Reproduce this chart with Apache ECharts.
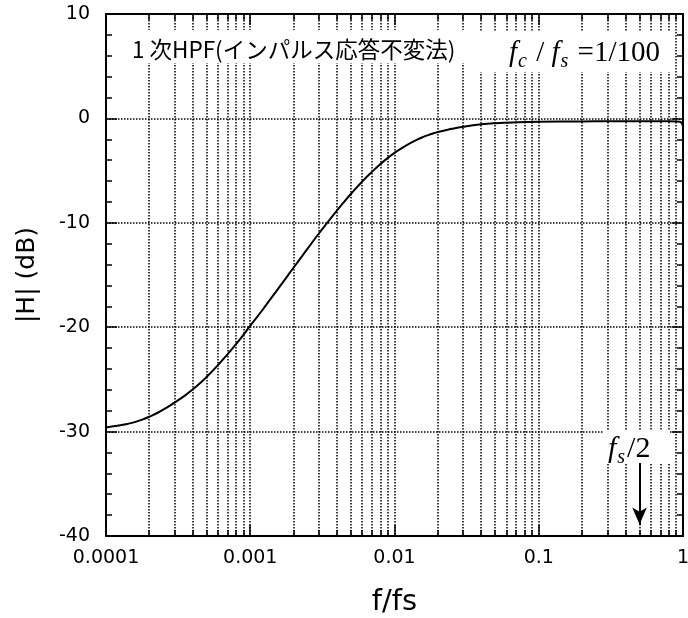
<!DOCTYPE html>
<html><head><meta charset="utf-8">
<script src="https://cdn.jsdelivr.net/npm/echarts@6/dist/echarts.min.js"></script>
<style>html,body{margin:0;padding:0;background:#fff}#c{width:688px;height:618px}</style>
</head><body><div id="c"></div>
<script>
// ---- data ----
const freq = [0.0001, 0.00012, 0.00014, 0.00016, 0.00018, 0.0002, 0.00023, 0.00026, 0.0003, 0.00035, 0.0004, 0.00045, 0.0005, 0.0006, 0.0007, 0.0008, 0.0009,
  0.001, 0.0012, 0.0014, 0.0016, 0.0018, 0.002, 0.0023, 0.0026, 0.003, 0.0035, 0.004, 0.0045, 0.005, 0.006, 0.007, 0.008, 0.009,
  0.01, 0.012, 0.014, 0.016, 0.018, 0.02, 0.025, 0.03, 0.04, 0.05, 0.07, 0.1, 0.2, 0.3, 0.5, 0.8, 0.9, 0.95, 0.98, 1.0];
const gainDb = [-29.6, -29.45, -29.27, -29.07, -28.83, -28.57, -28.17, -27.75, -27.2, -26.58, -25.95, -25.35, -24.75, -23.6, -22.55, -21.6, -20.7,
  -19.85, -18.45, -17.2, -16.12, -15.15, -14.28, -13.15, -12.15, -11.0, -9.82, -8.8, -7.95, -7.22, -6.02, -5.1, -4.36, -3.78,
  -3.3, -2.6, -2.1, -1.75, -1.5, -1.3, -1.0, -0.8, -0.57, -0.46, -0.37, -0.32, -0.29, -0.28, -0.28, -0.28, -0.29, -0.32, -0.45, -0.75];
const xTickLabels = ['0.0001', '0.001', '0.01', '0.1', '1'];
const yTickLabels = ['-40', '-30', '-20', '-10', '0', '10'];
const decades = [0.0001, 0.001, 0.01, 0.1];
const minorMultipliers = [2, 3, 4, 5, 6, 7, 8, 9];
const nyquist = 0.5;
const arrowFrom = -33.0, arrowTo = -38.9;
const title1 = '1 次HPF(インパルス応答不変法)';

const minorX = [];
decades.forEach(d => minorMultipliers.forEach(m => minorX.push(d * m)));

const X_MIN = 0.0001, X_MAX = 1, Y_MIN = -40, Y_MAX = 10;
const chart = echarts.init(document.getElementById('c'), null, {renderer: 'canvas'});

const axisLineStyle = {color: '#000', width: 2};
const dotted = {color: '#000', width: 1.5, type: [1.5, 1.5]};

function xLabel(v) {
  const k = Math.round(Math.log10(v)) + 4;
  return xTickLabels[k] !== undefined ? xTickLabels[k] : '';
}

const serifRich = function (size, subSize, pad) {
  return {
    fi: {fontFamily: 'Liberation Serif', fontStyle: 'italic', fontSize: size, lineHeight: size, verticalAlign: 'bottom', padding: [0, 0, pad, 0]},
    n: {fontFamily: 'Liberation Serif', fontSize: size, lineHeight: size, verticalAlign: 'bottom', padding: [0, 0, pad, 0]},
    sub: {fontFamily: 'Liberation Serif', fontStyle: 'italic', fontSize: subSize, lineHeight: subSize, verticalAlign: 'bottom', padding: [0, 2, 0, 1]}
  };
};

const option = {
  backgroundColor: '#fff',
  animation: false,
  grid: {left: 106, right: 5, top: 14, bottom: 82, containLabel: false, outerBoundsMode: 'none'},
  xAxis: [{
    type: 'log', logBase: 10, min: X_MIN, max: X_MAX, position: 'bottom',
    axisLine: {show: true, onZero: false, lineStyle: axisLineStyle},
    axisTick: {show: true, inside: true, length: 11, lineStyle: {color: '#000', width: 1.5}},
    splitLine: {show: true, lineStyle: dotted},
    axisLabel: {show: true, margin: 13, color: '#000', fontSize: 19, fontFamily: 'DejaVu Sans', formatter: xLabel, hideOverlap: false},
    name: 'f/fs', nameLocation: 'middle', nameGap: 52,
    nameTextStyle: {color: '#000', fontSize: 29, fontFamily: 'DejaVu Sans'}
  }, {
    type: 'log', logBase: 10, min: X_MIN, max: X_MAX, position: 'top',
    axisLine: {show: true, onZero: false, lineStyle: axisLineStyle},
    axisTick: {show: true, inside: true, length: 11, lineStyle: {color: '#000', width: 1.5}},
    splitLine: {show: false}, axisLabel: {show: false}
  }],
  yAxis: [{
    type: 'value', min: Y_MIN, max: Y_MAX, interval: 10, position: 'left',
    axisLine: {show: true, onZero: false, lineStyle: axisLineStyle},
    axisTick: {show: true, inside: true, length: 11, lineStyle: {color: '#000', width: 1.5}},
    minorTick: {show: true, splitNumber: 5, length: 6, lineStyle: {color: '#000', width: 1.5}},
    splitLine: {show: true, lineStyle: dotted},
    axisLabel: {show: true, margin: 16, color: '#000', fontSize: 19, fontFamily: 'DejaVu Sans',
      formatter: v => yTickLabels[Math.round((v - Y_MIN) / 10)]},
    name: '|H| (dB)', nameLocation: 'middle', nameGap: 66, nameRotate: 90,
    nameTextStyle: {color: '#000', fontSize: 25, fontFamily: 'DejaVu Sans'}
  }, {
    type: 'value', min: Y_MIN, max: Y_MAX, interval: 10, position: 'right',
    axisLine: {show: true, onZero: false, lineStyle: axisLineStyle},
    axisTick: {show: true, inside: true, length: 11, lineStyle: {color: '#000', width: 1.5}},
    minorTick: {show: true, splitNumber: 5, length: 6, lineStyle: {color: '#000', width: 1.5}},
    splitLine: {show: false}, axisLabel: {show: false}
  }],
  series: [{
    type: 'custom', name: 'minorGrid', xAxisIndex: 0, yAxisIndex: 0, silent: true, z: 1,
    data: minorX.map(v => [v, 0]),
    encode: {x: 0, y: 1},
    renderItem: function (params, api) {
      const v = api.value(0);
      const b = api.coord([v, Y_MIN]);
      const t = api.coord([v, Y_MAX]);
      const x = Math.round(b[0]);
      return {type: 'group', children: [
        {type: 'line', shape: {x1: x, y1: t[1], x2: x, y2: b[1]}, style: {stroke: '#000', lineWidth: 1.5, lineDash: [1.5, 1.5]}},
        {type: 'line', shape: {x1: x, y1: b[1], x2: x, y2: b[1] - 6}, style: {stroke: '#000', lineWidth: 1.5}},
        {type: 'line', shape: {x1: x, y1: t[1], x2: x, y2: t[1] + 6}, style: {stroke: '#000', lineWidth: 1.5}}
      ]};
    }
  }, {
    type: 'line', name: 'gain', xAxisIndex: 0, yAxisIndex: 0, z: 5,
    data: freq.map((f, i) => [f, gainDb[i]]),
    showSymbol: false, smooth: 0.5,
    lineStyle: {color: '#000', width: 2},
    markLine: {
      silent: true, animation: false,
      symbol: ['none', 'arrow'], symbolSize: [11, 17],
      lineStyle: {color: '#000', width: 2, type: 'solid'},
      label: {show: false},
      data: [[{coord: [nyquist, arrowFrom]}, {coord: [nyquist, arrowTo]}]]
    }
  }],
  graphic: [
    {type: 'rect', z: 50, shape: {x: 118, y: 30, width: 352, height: 33}, style: {fill: '#fff'}},
    {type: 'text', z: 51, x: 132, y: 49, style: {text: title1, font: '22.5px "Noto Sans CJK JP"', fill: '#000', verticalAlign: 'middle', textVerticalAlign: 'middle'}},
    {type: 'rect', z: 50, shape: {x: 474, y: 32, width: 198, height: 40}, style: {fill: '#fff'}},
    {type: 'text', z: 51, x: 509, y: 72, style: {
      text: '{fi|f}{sub|c}{n| / }{fi|f}{sub|s}{n| =1/100}', fill: '#000', verticalAlign: 'bottom', textVerticalAlign: 'bottom',
      rich: serifRich(29, 20, 4)
    }},
    {type: 'rect', z: 50, shape: {x: 604, y: 430, width: 66, height: 33}, style: {fill: '#fff'}},
    {type: 'text', z: 51, x: 608, y: 468, style: {
      text: '{fi|f}{sub|s}{n|/2}', fill: '#000', verticalAlign: 'bottom', textVerticalAlign: 'bottom',
      rich: serifRich(30, 20, 4)
    }}
  ]
};
chart.setOption(option);
</script>
</body></html>
